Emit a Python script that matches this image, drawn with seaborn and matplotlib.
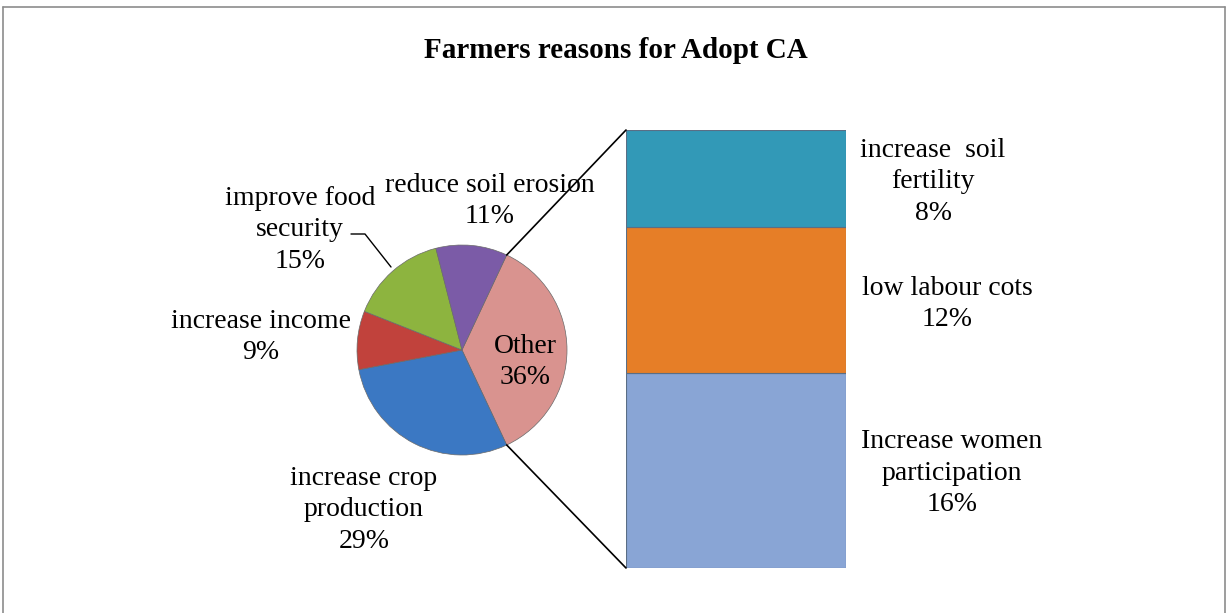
import numpy as np
import matplotlib
matplotlib.use("Agg")
import matplotlib.pyplot as plt
import seaborn as sns
from matplotlib.patches import ConnectionPatch
from matplotlib.lines import Line2D

sns.set_theme(style="white")
plt.rcParams['font.family'] = ['Liberation Serif', 'DejaVu Serif']
plt.rcParams['text.color'] = 'black'

# ---- data ----
pie_labels = ["Other", "increase crop\nproduction", "increase income", "improve food\nsecurity", "reduce soil erosion"]
pie_values = [36, 29, 9, 15, 11]
pie_colors = ["#D9938F", "#3B78C3", "#C1423C", "#8DB43F", "#7B5BA7"]

bar_labels = ["Increase women\nparticipation", "low labour cots", "increase  soil\nfertility"]
bar_values = [16, 12, 8]
bar_colors = ["#89A5D5", "#E67E27", "#3299B7"]

title = "Farmers reasons for Adopt CA"

W, H = 1228, 613
fig = plt.figure(figsize=(W / 100, H / 100), dpi=100)

def fx(px):
    return px / W

def fy(py):
    return 1 - py / H

# figure border
for xs, ys in [([3, 1225], [7, 7]), ([3, 3], [7, 613]), ([1225, 1225], [7, 613])]:
    fig.add_artist(Line2D([fx(x) for x in xs], [fy(y) for y in ys], color="#8c8c8c", lw=1.2))

fig.text(fx(616), fy(51), title, ha="center", va="center", fontsize=21, fontweight="bold")

FS = 20
LS = 1.35

# ---- pie ----
r_px = 105
cx, cy = 462, 350
ax_p = fig.add_axes([fx(cx - r_px), fy(cy + r_px), (2 * r_px) / W, (2 * r_px) / H])
other_frac = pie_values[0] / sum(pie_values)
start = 360 * other_frac / 2
wedges, _ = ax_p.pie(pie_values, colors=pie_colors, startangle=start, counterclock=False,
                     radius=1, wedgeprops=dict(edgecolor="#6a6a6a", linewidth=0.5))
ax_p.set_xlim(-1, 1)
ax_p.set_ylim(-1, 1)
ax_p.set_aspect("equal")

def to_data(px, py):
    return ((px - cx) / r_px, -(py - cy) / r_px)

pcts = [f"{v}%" for v in pie_values]
label_pos = [(525, 362), (364, 510), (261, 337), (300, 230), (490, 201)]
for lab, pc, (px, py) in zip(pie_labels, pcts, label_pos):
    x, y = to_data(px, py)
    ax_p.text(x, y, f"{lab}\n{pc}", ha="center", va="center", fontsize=FS,
              linespacing=LS, clip_on=False)

# leader line for food security
pts = [(351, 234), (365, 234), (391, 267)]
lx = [to_data(p, q)[0] for p, q in pts]
ly = [to_data(p, q)[1] for p, q in pts]
ax_p.plot(lx, ly, color="black", lw=1, clip_on=False)

# ---- bar ----
ax_b = fig.add_axes([fx(626), fy(568), 220 / W, 438 / H])
bottom = 0
for lab, v, c in zip(bar_labels, bar_values, bar_colors):
    ax_b.bar(0, v, bottom=bottom, width=1, color=c, edgecolor="#5a6e85", linewidth=0.8)
    bottom += v
ax_b.set_xlim(-0.5, 0.5)
ax_b.set_ylim(0, sum(bar_values))
ax_b.axis("off")

bar_label_pos = [(952, 473), (947, 304), (933, 182)]
for lab, v, (px, py) in zip(bar_labels, bar_values, bar_label_pos):
    fig.text(fx(px), fy(py), f"{lab}\n{v}%", ha="center", va="center", fontsize=FS, linespacing=LS)

# connector lines
a1 = np.deg2rad(start)
a2 = np.deg2rad(-start)
con1 = ConnectionPatch(xyA=(np.cos(a1), np.sin(a1)), coordsA=ax_p.transData,
                       xyB=(-0.5, sum(bar_values)), coordsB=ax_b.transData, color="black", lw=1.2)
con2 = ConnectionPatch(xyA=(np.cos(a2), np.sin(a2)), coordsA=ax_p.transData,
                       xyB=(-0.5, 0), coordsB=ax_b.transData, color="black", lw=1.2)
fig.add_artist(con1)
fig.add_artist(con2)

fig.savefig("out.png", dpi=100)
